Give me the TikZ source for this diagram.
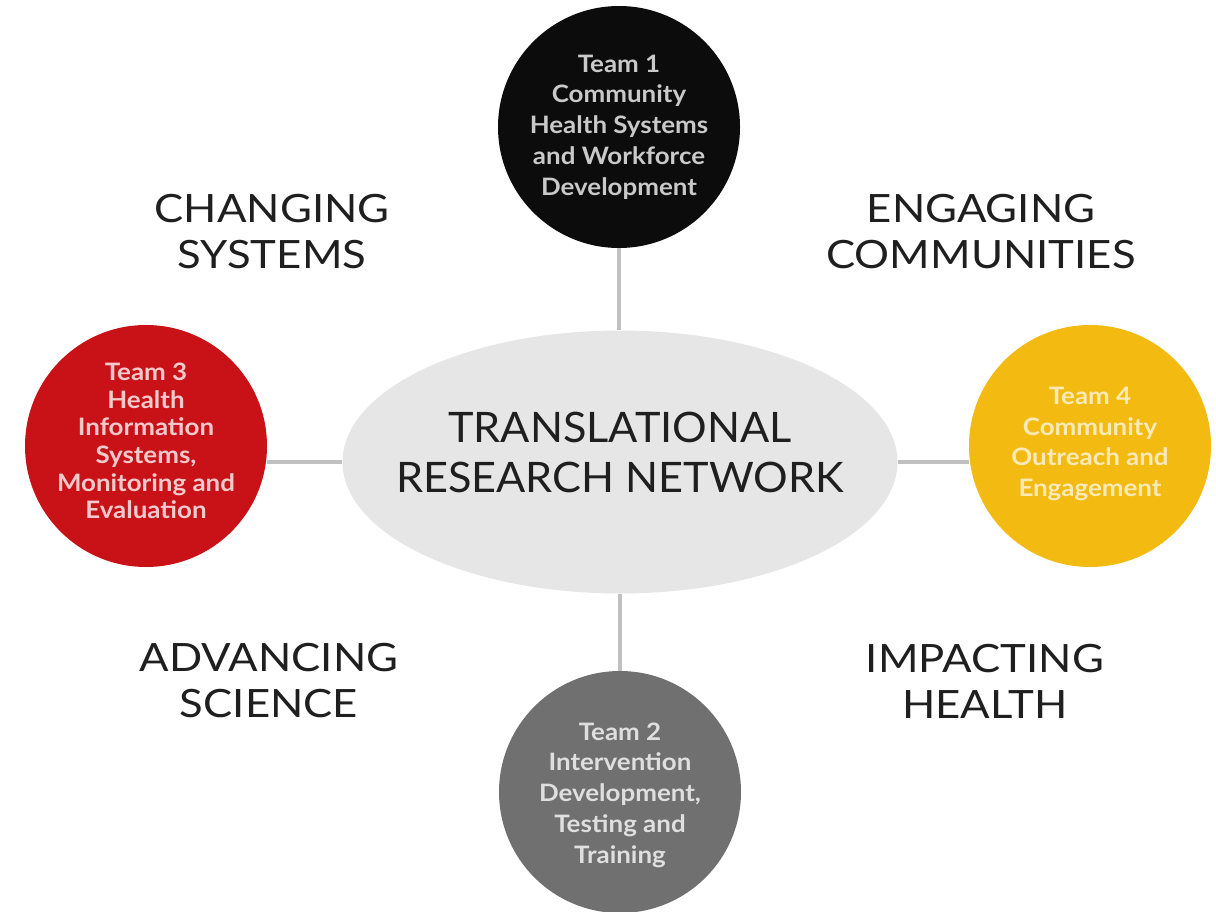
\documentclass[tikz,border=0pt]{standalone}
\usepackage{fontspec}
\setmainfont{Lato}
\newfontfamily\themefont[FakeStretch=1.12]{Lato}
\newfontfamily\hubfont[FakeStretch=1.03]{Lato}
\newfontfamily\teamfont[FakeStretch=1.08]{Lato}
\usetikzlibrary{shapes.geometric}
\definecolor{tblack}{RGB}{12,12,12}
\definecolor{tred}{RGB}{200,18,24}
\definecolor{tyellow}{RGB}{243,186,18}
\definecolor{tgray}{RGB}{112,112,112}
\definecolor{ellfill}{RGB}{230,230,230}
\definecolor{linkc}{RGB}{192,192,192}
\tikzset{
  team/.style={circle, minimum size=242pt, inner sep=0pt},
  teamtext/.style={align=center, inner sep=0pt,
    font=\teamfont\fontsize{24}{30.8}\selectfont\bfseries, text opacity=0.78, text=white},
  theme/.style={align=center, font=\themefont\fontsize{39}{46}\selectfont, text=black!88},
  hub/.style={ellipse, fill=ellfill, minimum width=555pt, minimum height=263pt, inner sep=0pt},
  hubtext/.style={align=center, font=\hubfont\fontsize{42}{50}\selectfont, text=black!88},
  link/.style={draw=linkc, line width=3.5pt}
}
\begin{document}
\begin{tikzpicture}[x=1pt,y=-1pt]
\useasboundingbox (0,0) rectangle (1216,912);
\node[hub] (trn) at (620,462) {};
\node[hubtext] (trnlabel) at (620,452) {TRANSLATIONAL\\RESEARCH NETWORK};
\node[team, fill=tblack] (t1) at (619,127) {};
\node[team, fill=tred] (t3) at (146,446) {};
\node[team, fill=tyellow] (t4) at (1090,446) {};
\node[team, fill=tgray] (t2) at (620,792) {};
\node[teamtext] (t1text) at (619,127) {Team 1\\Community\\Health Systems\\and Workforce\\Development};
\node[teamtext, font=\teamfont\fontsize{24}{27.6}\selectfont\bfseries] (t3text) at (146,441) {Team 3\\Health\\Information\\Systems,\\Monitoring and\\Evaluation};
\node[teamtext, text opacity=0.7] (t4text) at (1090,444) {Team 4\\Community\\Outreach and\\Engagement};
\node[teamtext] (t2text) at (620,795) {Team 2\\Intervention\\Development,\\Testing and\\Training};
\draw[link] (t1.south) -- (t1.south |- trn.north);
\draw[link] (t2.north) -- (t2.north |- trn.south);
\draw[link] (t3.east |- trn.west) -- (trn.west);
\draw[link] (trn.east) -- (t4.west |- trn.east);
\node[theme] (cs) at (272,232) {CHANGING\\SYSTEMS};
\node[theme] (ec) at (981,232) {ENGAGING\\COMMUNITIES};
\node[theme] (as) at (269,681) {ADVANCING\\SCIENCE};
\node[theme] (ih) at (985,681) {IMPACTING\\HEALTH};
\end{tikzpicture}
\end{document}
